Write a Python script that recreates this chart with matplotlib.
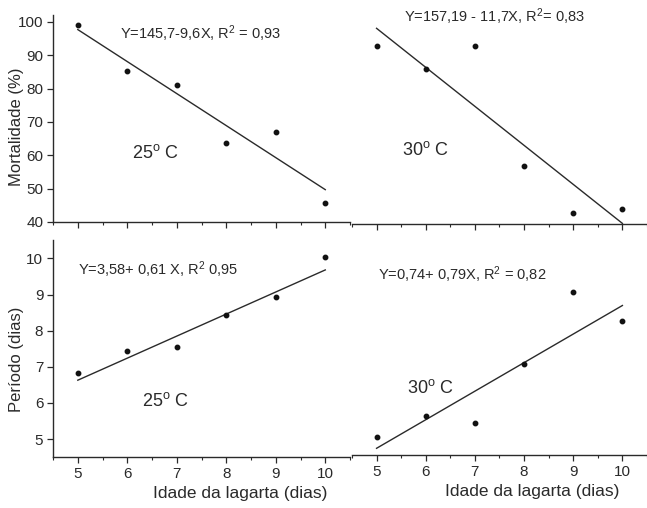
import numpy as np
import matplotlib
matplotlib.use("Agg")
import matplotlib.pyplot as plt

plt.rcParams["font.family"] = ["Liberation Sans", "DejaVu Sans"]
plt.rcParams["mathtext.fontset"] = "custom"
plt.rcParams["mathtext.rm"] = "Liberation Sans"
plt.rcParams["mathtext.it"] = "Liberation Sans:italic"
plt.rcParams["mathtext.default"] = "regular"

INK = "#2a2a2a"

idade = [5, 6, 7, 8, 9, 10]
mort_25 = [99.2, 85.3, 81.2, 63.8, 67.0, 45.8]
mort_30 = [93.5, 86.5, 93.5, 57.3, 43.4, 44.4]
periodo_25 = [6.82, 7.44, 7.54, 8.42, 8.93, 10.03]
periodo_30 = [5.0, 5.58, 5.38, 7.02, 9.02, 8.21]

# regression coefficients (a, b) as printed
fit_mort_25 = (145.7, -9.6)
fit_mort_30 = (157.19, -11.7)
fit_per_25 = (3.58, 0.61)
fit_per_30 = (0.74, 0.79)

eq_mort_25 = r"Y=145,7-9,6X, R$^2$ = 0,93"
eq_mort_30 = r"Y=157,19 - 11,7X, R$^2$= 0,83"
eq_per_25 = r"Y=3,58+ 0,61 X, R$^2$ 0,95"
eq_per_30 = r"Y=0,74+ 0,79X, R$^2$ = 0,82"
lab_25 = r"25$^o$ C"
lab_30 = r"30$^o$ C"

mort_ticks = [40, 50, 60, 70, 80, 90, 100]
per_ticks = [5, 6, 7, 8, 9, 10]


def style_axes(ax, show_y, show_xlabels):
    ax.spines["top"].set_visible(False)
    ax.spines["right"].set_visible(False)
    for s in ax.spines.values():
        s.set_color(INK)
        s.set_linewidth(1.0)
    if not show_y:
        ax.spines["left"].set_visible(False)
        ax.tick_params(axis="y", left=False, labelleft=False)
    ax.set_xlim(4.5, 10.5)
    ax.set_xticks(idade)
    ax.set_xticks(np.arange(4.5, 10.6, 0.5), minor=True)
    ax.tick_params(axis="both", which="major", direction="out", length=4,
                   width=0.9, colors=INK, labelsize=11, pad=3)
    ax.tick_params(axis="x", which="minor", direction="out", length=2,
                   width=0.8, colors=INK)
    if not show_xlabels:
        ax.tick_params(axis="x", labelbottom=False)


def draw_panel(ax, y, fit):
    xs = np.array([idade[0], idade[-1]])
    ax.plot(xs, fit[0] + fit[1] * xs, color=INK, lw=1.0, clip_on=False)
    ax.plot(idade, y, "o", color="#111111", ms=3.2, clip_on=False)


fig = plt.figure(figsize=(6.47, 5.08), dpi=100)

ax1 = fig.add_axes([0.082, 0.563, 0.459, 0.407])
ax2 = fig.add_axes([0.544, 0.559, 0.456, 0.407])
ax3 = fig.add_axes([0.082, 0.100, 0.459, 0.427])
ax4 = fig.add_axes([0.544, 0.104, 0.456, 0.427])

for ax in (ax1, ax2):
    ax.set_ylim(40, 102)
    ax.set_yticks(mort_ticks)
for ax in (ax3, ax4):
    ax.set_ylim(4.5, 10.5)
    ax.set_yticks(per_ticks)

style_axes(ax1, True, False)
style_axes(ax2, False, False)
style_axes(ax3, True, True)
style_axes(ax4, False, True)

draw_panel(ax1, mort_25, fit_mort_25)
draw_panel(ax2, mort_30, fit_mort_30)
draw_panel(ax3, periodo_25, fit_per_25)
draw_panel(ax4, periodo_30, fit_per_30)

eq_kw = dict(fontsize=10.5, color=INK, va="center", ha="left", clip_on=False)
lab_kw = dict(fontsize=13, color=INK, va="center", ha="left")

ax1.text(5.85, 96.6, eq_mort_25, **eq_kw)
ax1.text(6.1, 60.8, lab_25, **lab_kw)
ax2.text(5.56, 102.2, eq_mort_30, **eq_kw)
ax2.text(5.52, 62.2, lab_30, **lab_kw)
ax3.text(5.0, 9.68, eq_per_25, **eq_kw)
ax3.text(6.3, 6.06, lab_25, **lab_kw)
ax4.text(5.02, 9.5, eq_per_30, **eq_kw)
ax4.text(5.62, 6.36, lab_30, **lab_kw)

ax1.set_ylabel("Mortalidade (%)", fontsize=12, color=INK)
ax3.set_ylabel("Período (dias)", fontsize=12, color=INK)
ax1.yaxis.set_label_coords(-0.098, 0.46)
ax3.yaxis.set_label_coords(-0.098, 0.45)

for ax, xc in ((ax3, 0.63), (ax4, 0.61)):
    ax.set_xlabel("Idade da lagarta (dias)", fontsize=12.5, color=INK)
    ax.xaxis.set_label_coords(xc, -0.135)

fig.savefig("out.png", dpi=100)
